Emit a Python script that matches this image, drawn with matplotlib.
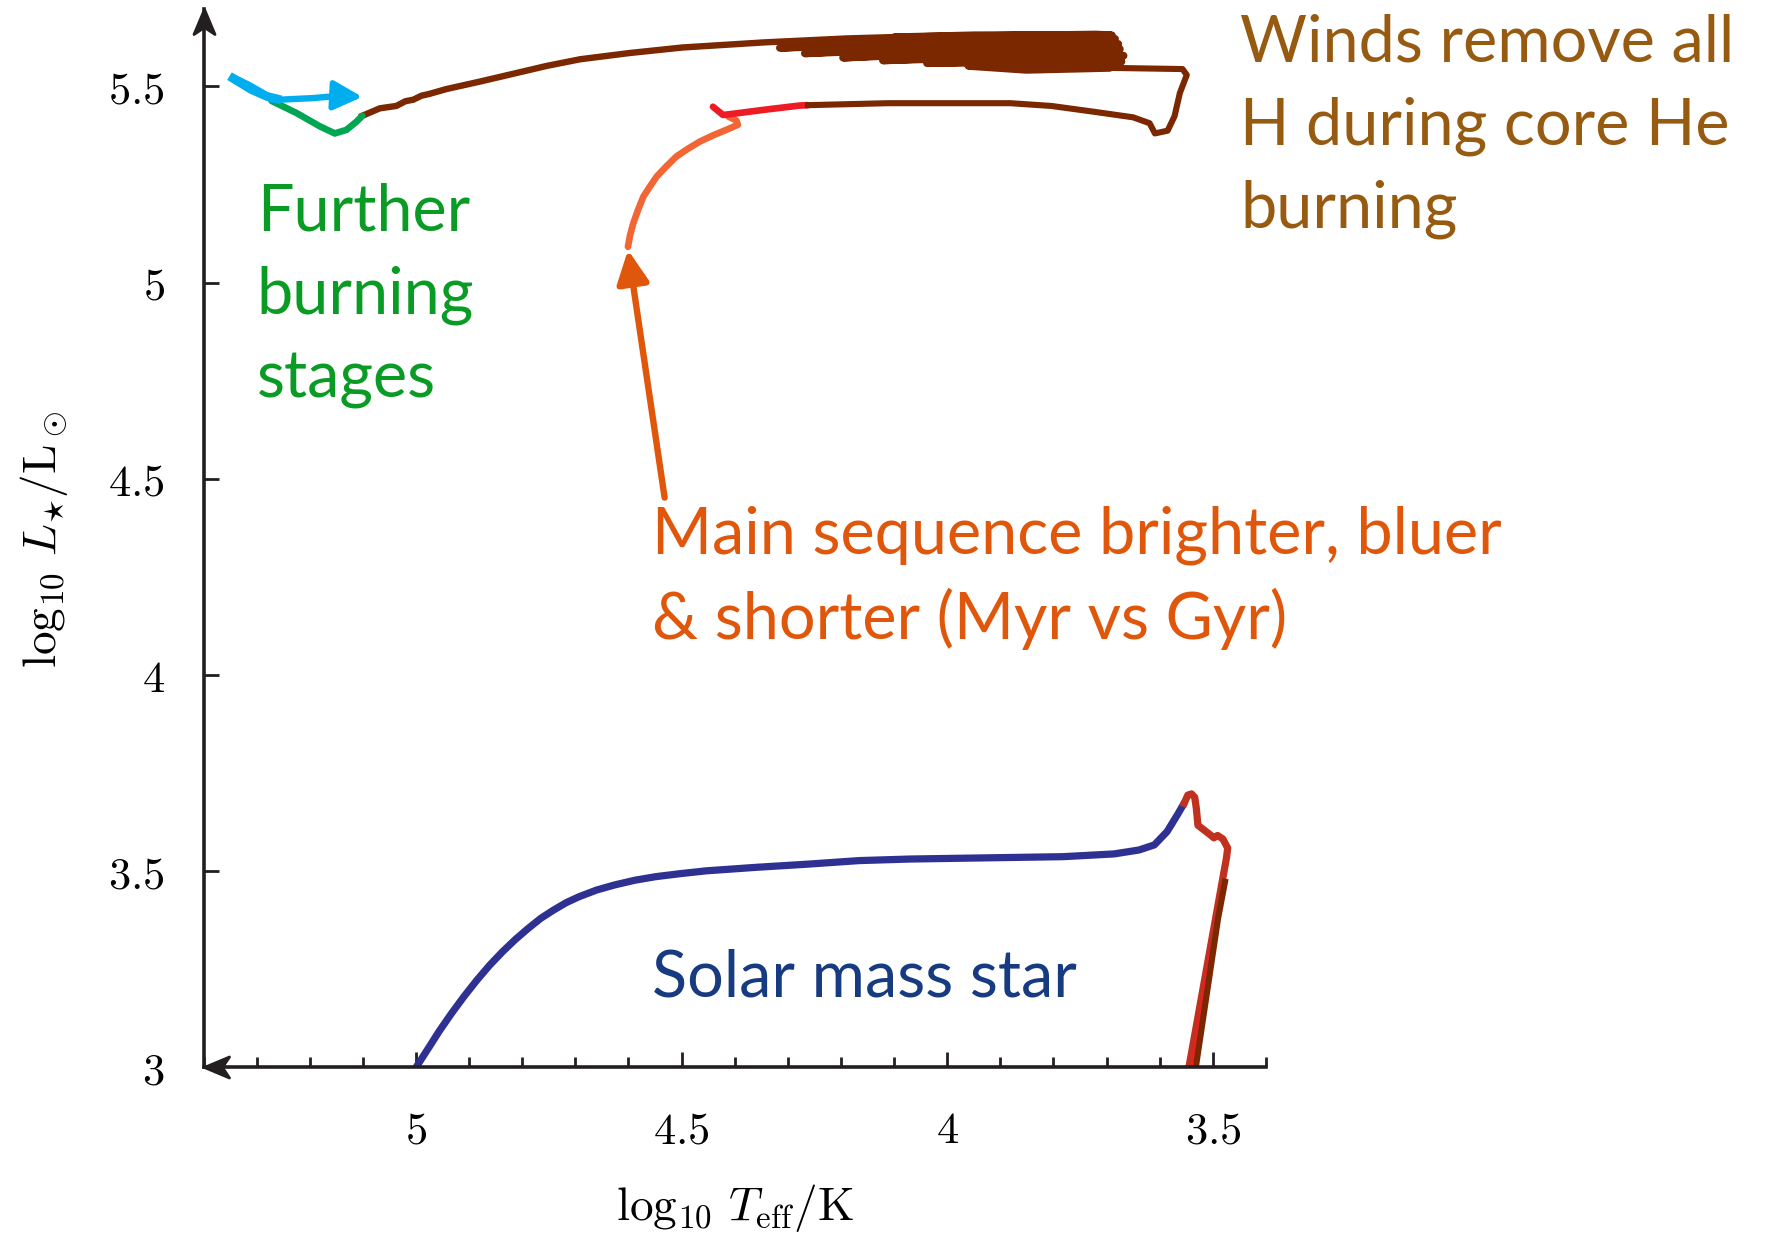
import matplotlib
matplotlib.use("Agg")
import matplotlib.pyplot as plt
from matplotlib.path import Path
from matplotlib.ticker import FixedLocator, MultipleLocator, FixedFormatter

plt.rcParams["mathtext.fontset"] = "cm"

# --- solar mass star track (log Teff, log L) ---
sun_ms_logt = [5.0, 4.971, 4.957, 4.933, 4.909, 4.885, 4.861, 4.837, 4.813, 4.789,
               4.765, 4.741, 4.717, 4.693, 4.660, 4.626, 4.588, 4.549, 4.501, 4.453,
               4.358, 4.262, 4.166, 4.070, 3.974, 3.878, 3.782, 3.686, 3.639, 3.610,
               3.586, 3.567, 3.554]
sun_ms_logl = [3.0, 3.061, 3.091, 3.138, 3.182, 3.223, 3.261, 3.295, 3.326, 3.354,
               3.380, 3.401, 3.420, 3.435, 3.452, 3.465, 3.477, 3.486, 3.494, 3.501,
               3.510, 3.518, 3.527, 3.531, 3.533, 3.535, 3.537, 3.544, 3.554, 3.567,
               3.601, 3.643, 3.673]
sun_rgb_logt = [3.554, 3.547, 3.540, 3.534, 3.531, 3.528, 3.506, 3.498, 3.491, 3.481,
                3.472, 3.474, 3.545, 3.552]
sun_rgb_logl = [3.673, 3.694, 3.697, 3.688, 3.660, 3.617, 3.594, 3.585, 3.591, 3.582,
                3.559, 3.536, 3.0, 2.95]
sun_thin_logt = [3.503, 3.540, 3.544]
sun_thin_logl = [3.304, 3.0, 2.95]
sun_agb_logt = [3.535, 3.532, 3.490, 3.477]
sun_agb_logl = [2.95, 3.0, 3.38, 3.473]

# --- massive star track ---
ms_logt = [4.601, 4.597, 4.591, 4.582, 4.572, 4.560, 4.547, 4.528, 4.510, 4.488,
           4.466, 4.441, 4.416, 4.394, 4.397, 4.412]
ms_logl = [5.091, 5.121, 5.151, 5.185, 5.219, 5.244, 5.270, 5.297, 5.321, 5.341,
           5.359, 5.375, 5.389, 5.402, 5.413, 5.423]
hook_logt = [4.441, 4.422, 4.403, 4.340, 4.278, 4.262]
hook_logl = [5.448, 5.427, 5.430, 5.441, 5.451, 5.452]
rsg_logt = [4.262, 4.112, 3.881, 3.804, 3.728, 3.650, 3.619, 3.609, 3.585, 3.572,
            3.562, 3.549, 3.557, 3.694]
rsg_logl = [5.452, 5.457, 5.457, 5.450, 5.436, 5.421, 5.406, 5.380, 5.387, 5.424,
            5.483, 5.529, 5.544, 5.547]
loops_logt = [3.694, 3.851, 3.96, 3.80, 3.68, 3.672, 3.70, 4.038, 3.90, 3.70, 3.668,
              3.69, 4.121, 3.95, 3.72, 3.675, 3.70, 4.196, 4.00, 3.74, 3.678, 3.70,
              4.268, 4.05, 3.74, 3.684, 3.70, 4.315, 4.10, 3.76, 3.69, 3.72, 4.10,
              3.95, 3.781]
loops_logl = [5.547, 5.542, 5.552, 5.556, 5.555, 5.563, 5.568, 5.559, 5.563, 5.572,
              5.578, 5.583, 5.566, 5.576, 5.588, 5.595, 5.601, 5.573, 5.588, 5.602,
              5.608, 5.613, 5.584, 5.601, 5.616, 5.621, 5.626, 5.598, 5.613, 5.628,
              5.630, 5.632, 5.625, 5.630, 5.631]
blue_logt = [3.781, 3.881, 4.036, 4.189, 4.344, 4.498, 4.597, 4.691, 4.754, 4.817,
             4.880, 4.943, 4.974, 4.990, 5.005, 5.020, 5.037, 5.068, 5.101]
blue_logl = [5.631, 5.630, 5.628, 5.622, 5.612, 5.599, 5.585, 5.569, 5.552, 5.532,
             5.512, 5.493, 5.481, 5.476, 5.466, 5.462, 5.450, 5.444, 5.425]
late_logt = [5.101, 5.112, 5.131, 5.153, 5.181, 5.225, 5.272]
late_logl = [5.425, 5.410, 5.389, 5.380, 5.398, 5.432, 5.463]
final_logt = [5.344, 5.315, 5.289, 5.272, 5.256, 5.194, 5.143]
final_logl = [5.523, 5.504, 5.484, 5.466, 5.466, 5.470, 5.476]
wedge_logt = [5.344, 5.310, 5.280, 5.262]
wedge_logl = [5.520, 5.492, 5.474, 5.468]

x_major = [5, 4.5, 4, 3.5]
x_labels = ["$5$", "$4.5$", "$4$", "$3.5$"]
y_major = [3, 3.5, 4, 4.5, 5, 5.5]
y_labels = ["$3$", "$3.5$", "$4$", "$4.5$", "$5$", "$5.5$"]

AXC = "#231f20"

fig = plt.figure(figsize=(8.865, 6.175), dpi=200)
ax = fig.add_axes([0.1148, 0.1357, 0.5992, 0.857])

# tracks
ax.plot(sun_ms_logt, sun_ms_logl, color="#2e3192", lw=2.6, solid_capstyle="round",
        solid_joinstyle="round")
ax.plot(sun_rgb_logt, sun_rgb_logl, color="#c1311f", lw=2.6, solid_joinstyle="round")
ax.plot(sun_thin_logt, sun_thin_logl, color="#ed1c24", lw=1.0)
ax.plot(sun_agb_logt, sun_agb_logl, color="#7b2700", lw=2.2)

ax.plot(ms_logt, ms_logl, color="#f26535", lw=2.4, solid_capstyle="round",
        solid_joinstyle="round")
ax.plot(hook_logt, hook_logl, color="#ed1c24", lw=2.4, solid_capstyle="round")
ax.plot(rsg_logt, rsg_logl, color="#7b2700", lw=2.2, solid_joinstyle="round")
ax.plot(loops_logt, loops_logl, color="#7b2700", lw=2.8, solid_joinstyle="round",
        solid_capstyle="round")
ax.plot(blue_logt, blue_logl, color="#7b2700", lw=2.3, solid_joinstyle="round")
ax.plot(late_logt, late_logl, color="#00a651", lw=2.4, solid_capstyle="round",
        solid_joinstyle="round")
ax.plot(final_logt, final_logl, color="#00aeef", lw=2.3)
ax.plot(wedge_logt, wedge_logl, color="#00aeef", lw=3.2)
ax.annotate("", xy=(5.101, 5.473), xytext=(final_logt[-1], final_logl[-1]),
            arrowprops=dict(arrowstyle="-|>,head_length=0.55,head_width=0.28",
                            color="#00aeef", lw=2.0, shrinkA=0, shrinkB=0,
                            mutation_scale=16))

# main sequence pointer
ax.annotate("", xy=(ms_logt[0], ms_logl[0] - 0.008), xytext=(4.532, 4.452),
            arrowprops=dict(arrowstyle="-|>,head_length=0.55,head_width=0.27",
                            color="#e0560b", lw=2.3, shrinkA=0, shrinkB=0,
                            mutation_scale=18))

# annotations
fnt = "Lato"
fs = 23.3
ax.text(5.300, 5.254, "Further\nburning\nstages", color="#0a9b25", fontsize=fs,
        family=fnt, va="top", ha="left", linespacing=1.5)
ax.text(3.449, 5.686, "Winds remove all\nH during core He\nburning", color="#965a10",
        fontsize=fs, family=fnt, va="top", ha="left", linespacing=1.5, clip_on=False)
ax.text(4.555, 4.432, "Main sequence brighter, bluer\n& shorter (Myr vs Gyr)",
        color="#e0560b", fontsize=fs, family=fnt, va="top", ha="left", linespacing=1.45)
ax.text(4.555, 3.302, "Solar mass star", color="#173b80", fontsize=fs, family=fnt,
        va="top", ha="left")

# axes
ax.set_xlim(5.4, 3.4)
ax.set_ylim(3.0, 5.697)
for s in ["top", "right"]:
    ax.spines[s].set_visible(False)
for s in ["left", "bottom"]:
    ax.spines[s].set_linewidth(1.3)
    ax.spines[s].set_color(AXC)

ax.xaxis.set_major_locator(FixedLocator(x_major))
ax.xaxis.set_major_formatter(FixedFormatter(x_labels))
ax.xaxis.set_minor_locator(MultipleLocator(0.1))
ax.yaxis.set_major_locator(FixedLocator(y_major))
ax.yaxis.set_major_formatter(FixedFormatter(y_labels))
ax.tick_params(axis="x", which="major", direction="in", length=5.4, width=1.0,
               color=AXC, pad=15, labelsize=16)
ax.tick_params(axis="x", which="minor", direction="in", length=3.6, width=1.0, color=AXC)
ax.tick_params(axis="y", which="major", direction="in", length=5.4, width=1.0,
               color=AXC, pad=14, labelsize=16)

up_head = Path([(0, 0), (-0.42, -1), (0, -0.72), (0.42, -1), (0, 0)],
               [Path.MOVETO, Path.LINETO, Path.LINETO, Path.LINETO, Path.CLOSEPOLY])
left_head = Path([(0, 0), (1, 0.42), (0.72, 0), (1, -0.42), (0, 0)],
                 [Path.MOVETO, Path.LINETO, Path.LINETO, Path.LINETO, Path.CLOSEPOLY])
ax.plot([0], [1], marker=up_head, markersize=18, color=AXC, transform=ax.transAxes,
        clip_on=False)
ax.plot([0], [0], marker=left_head, markersize=18, color=AXC, transform=ax.transAxes,
        clip_on=False)

ax.set_xlabel(r"$\log_{10}\,T_\mathrm{eff}/\mathrm{K}$", fontsize=17)
ax.set_ylabel(r"$\log_{10}\,L_{\!\star}\!/\mathrm{L}_\odot$", fontsize=17)
ax.xaxis.set_label_coords(0.5, -0.108)
ax.yaxis.set_label_coords(-0.126, 0.499)

fig.savefig("out.png", dpi=200)
